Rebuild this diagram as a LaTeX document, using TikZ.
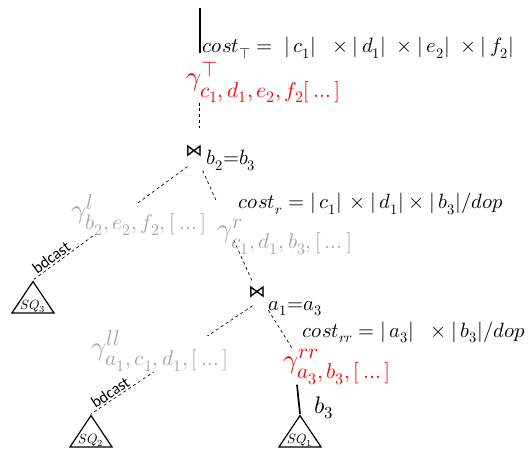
\documentclass[tikz,border=0pt]{standalone}
\usepackage{fontspec}
\usepackage{unicode-math}
\setmathfont{Latin Modern Math}
\DeclareMathSizes{20}{20}{16}{12}
\newfontfamily\bdfont{Carlito}
\newfontfamily\opfont{DejaVu Sans}
\usetikzlibrary{shapes.geometric}
\definecolor{costred}{RGB}{255,0,0}
\definecolor{costgray}{RGB}{166,166,166}
\newcommand\sqtext[1]{\makebox[0pt]{\raisebox{-6pt}[0pt][0pt]{$SQ_{#1}$}}}

\begin{document}
\begin{tikzpicture}[x=0.75pt,y=-0.75pt,
  costlbl/.style={anchor=base west, inner sep=0pt, font=\fontsize{15.5}{18}\selectfont},
  aggr/.style={anchor=base west, inner sep=0pt, font=\fontsize{20}{24}\selectfont},
  aggrred/.style={aggr, text=costred},
  aggrgray/.style={aggr, text=costgray, fill=white, inner sep=1pt},
  joinop/.style={circle, inner sep=0pt, minimum size=15pt, font=\opfont\fontsize{13}{15}\selectfont},
  joincond/.style={anchor=base west, inner sep=0pt, font=\fontsize{15.5}{18}\selectfont},
  subquery/.style={isosceles triangle, isosceles triangle stretches, shape border rotate=90, draw, line width=0.9pt, minimum width=31.5pt, minimum height=23.5pt, inner sep=0pt, anchor=apex, font=\fontsize{10}{12}\selectfont},
  shipline/.style={line width=0.5pt, dash pattern=on 2.2pt off 2.2pt},
  flowline/.style={line width=1.3pt},
  bdlbl/.style={font=\bdfont\fontsize{12}{14}\selectfont, sloped, above, inner sep=1pt, pos=0.86}
]
\useasboundingbox (0,0) rectangle (532,449);

% output of the plan
\coordinate (root) at (200,8);
\node (costT) [costlbl] at (202,53) {$cost_{\top} = \;|\,c_1|\;\;\times|\,d_1|\;\times|\,e_2|\;\times|\,f_2|$};
\node (gtop) [aggrred] at (186,86) {$\gamma^{\top}_{c_1,\,d_1,\,e_2,\,f_2[\,\dots]}$};
\draw[flowline] (root) -- (root |- costT.base);

% upper join
\node (j1) [joinop] at (194,151) {⋈};
\node (j1c) [joincond] at (206,165) {$b_2{=}b_3$};
\draw[shipline, shorten >=10pt] (j1.60 |- gtop.south) -- (j1.60);

% lower join
\node (j2) [joinop] at (257,292) {⋈};
\node (j2c) [joincond] at (268,310) {$a_1{=}a_3$};
\node (costrr) [costlbl] at (302,337) {$cost_{rr} = |\,a_3|\;\;\times|\,b_3|/dop$};
\node (grr) [aggrred] at (283,368) {$\gamma^{rr}_{a_3,\,b_3,\,[\,\dots]}$};

% sub-queries
\node (sq3) [subquery] at (33,280) {\sqtext{3}};
\node (sq2) [subquery] at (91,414) {\sqtext{2}};
\node (sq1) [subquery] at (300,414) {\sqtext{1}};

% edges
\draw[shipline, shorten <=6pt] (j1.south) -- node[bdlbl] {bdcast} (sq3.apex);
\draw[shipline, shorten <=8pt] (j1) -- (j2);
\draw[shipline, shorten <=4pt] (j2.south) -- node[bdlbl] {bdcast} (sq2.apex);
\draw[shipline, shorten <=8pt] (j2) -- ([xshift=7pt]grr.north west);
\draw[flowline] ([xshift=10.5pt]grr.south west) -- (sq1.apex);
\node (b3) [joincond, font=\fontsize{18}{20}\selectfont] at (314,413) {$b_3$};

% partial aggregates over the edges
\node (gl) [aggrgray, text height=10pt] at (70,219) {$\gamma^{l}_{b_2,\,e_2,\,f_2,\,[\,\dots]}$};
\node (gr) [aggrgray, text height=27pt, text depth=-3.5pt] at (216,238) {$\gamma^{r}_{c_1,\,d_1,\,b_3,\,[\,\dots]}$};
\node (gll) [aggrgray, text height=13pt] at (90,355) {$\gamma^{ll}_{a_1,\,c_1,\,d_1,\,[\,\dots]}$};
\node (costr) [costlbl] at (238,209) {$cost_r = |\,c_1|\,\times|\,d_1|\times|\,b_3|/dop$};
\end{tikzpicture}
\end{document}
